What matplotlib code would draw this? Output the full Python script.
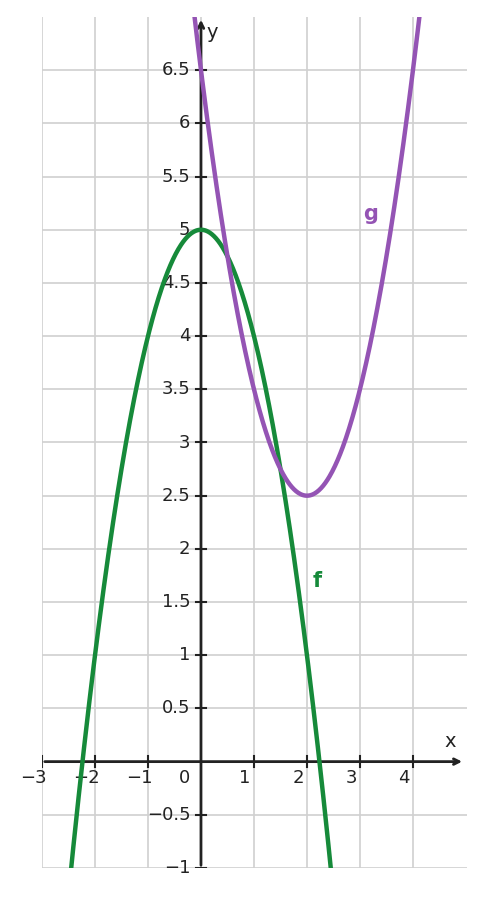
import numpy as np
import matplotlib
matplotlib.use("Agg")
import matplotlib.pyplot as plt

# polynomial coefficients (highest degree first)
f_coef = [-1, 0, 5]          # f(x) = 5 - x^2
g_coef = [1, -4, 6.5]        # g(x) = (x-2)^2 + 2.5
x_ticks = [-3, -2, -1, 1, 2, 3, 4]
y_ticks = [-1, -0.5, 0.5, 1, 1.5, 2, 2.5, 3, 3.5, 4, 4.5, 5, 5.5, 6, 6.5]

def fmt(v):
    s = ("%g" % v).replace("-", "\u2212")
    return s

fig = plt.figure(figsize=(4.85, 8.97), dpi=100)
ax = fig.add_axes([42/485, 29/897, 425/485, 851/897])
ax.set_xlim(-3, 5.02)
ax.set_ylim(-1, 7)
for s in ["top", "right", "left", "bottom"]:
    ax.spines[s].set_visible(False)
ax.set_xticks([]); ax.set_yticks([])

grid_c = "#d0d0d0"
for v in x_ticks + [0]:
    ax.axvline(v, color=grid_c, lw=1.2, zorder=0)
for v in y_ticks:
    ax.axhline(v, color=grid_c, lw=1.2, zorder=0)
for v in [0, 5, 5.5, 6, 6.5, 7]:
    pass

ax.annotate("", xy=(4.98, 0), xytext=(-3, 0),
            arrowprops=dict(arrowstyle="->", lw=2, color="#222222"), zorder=3)
ax.annotate("", xy=(0, 7.0), xytext=(0, -1),
            arrowprops=dict(arrowstyle="->", lw=2, color="#222222"), zorder=3)

tc = "#222222"
for v in x_ticks:
    ax.plot([v, v], [-0.05, 0.05], color=tc, lw=1.5, zorder=3)
    ax.text(v - 0.17, -0.07, fmt(v), ha="center", va="top", fontsize=13, color=tc)
ax.text(-0.32, -0.07, "0", ha="center", va="top", fontsize=13, color=tc)
for v in y_ticks:
    ax.plot([-0.1, 0.1], [v, v], color=tc, lw=1.5, zorder=3)
    ax.text(-0.2, v, fmt(v), ha="right", va="center", fontsize=13, color=tc)
ax.text(4.7, 0.1, "x", fontsize=14, color=tc, ha="center", va="bottom")
ax.text(0.1, 6.85, "y", fontsize=14, color=tc, ha="left", va="center")

xs = np.linspace(-3, 5, 800)
green = "#168a3a"; purple = "#9454b4"
ax.plot(xs, np.polyval(f_coef, xs), color=green, lw=3.2, zorder=4)
ax.plot(xs, np.polyval(g_coef, xs), color=purple, lw=3.2, zorder=4)
ax.text(2.2, 1.7, "f", color=green, fontsize=15, fontweight="bold", ha="center", va="center")
ax.text(3.2, 5.15, "g", color=purple, fontsize=15, fontweight="bold", ha="center", va="center")

fig.savefig("out.png", dpi=100)
